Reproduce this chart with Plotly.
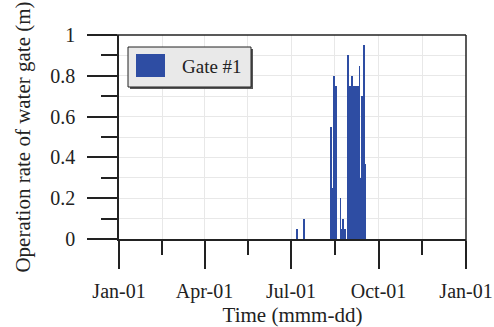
import plotly.graph_objects as go

# Daily operation rate of water gate #1 (m)
dates = [
    "2019-07-07", "2019-07-15",
    "2019-08-12", "2019-08-13", "2019-08-14", "2019-08-15", "2019-08-16", "2019-08-17",
    "2019-08-22", "2019-08-23", "2019-08-24", "2019-08-25", "2019-08-26", "2019-08-27",
    "2019-08-30", "2019-08-31", "2019-09-01", "2019-09-02", "2019-09-03", "2019-09-04",
    "2019-09-05", "2019-09-06", "2019-09-07", "2019-09-08", "2019-09-09",
    "2019-09-11", "2019-09-13", "2019-09-14", "2019-09-15", "2019-09-16", "2019-09-17",
]
values = [
    0.05, 0.10,
    0.55, 0.25, 0.25, 0.80, 0.75, 0.75,
    0.20, 0.05, 0.05, 0.10, 0.05, 0.05,
    0.90, 0.75, 0.75, 0.75, 0.80, 0.75,
    0.75, 0.75, 0.75, 0.75, 0.75,
    0.85, 0.30, 0.70, 0.70, 0.95, 0.37,
]

x_tick_vals = ["2019-01-01", "2019-04-01", "2019-07-01", "2019-10-01", "2020-01-01"]
x_tick_text = ["Jan-01", "Apr-01", "Jul-01", "Oct-01", "Jan-01"]
x_minor_vals = ["2019-02-15 12:00", "2019-05-16 12:00", "2019-08-16", "2019-11-16"]
y_tick_vals = [0, 0.2, 0.4, 0.6, 0.8, 1.0]
y_minor_vals = [0.1, 0.3, 0.5, 0.7, 0.9]

series_name = "Gate #1"
bar_color = "#2E4DA3"
font_family = "Liberation Serif"
ink = "#222222"

fig = go.Figure()
fig.add_trace(go.Bar(x=dates, y=values, name=series_name,
                     marker=dict(color=bar_color, line=dict(width=0)),
                     showlegend=False))

fig.update_layout(
    width=494, height=327,
    margin=dict(l=119, r=28, t=35, b=88),
    paper_bgcolor="white", plot_bgcolor="white",
    bargap=0,
    font=dict(family=font_family, size=20, color=ink),
    showlegend=False,
)

fig.update_xaxes(
    type="date", range=["2019-01-01", "2020-01-01"],
    tickmode="array", tickvals=x_tick_vals, ticktext=x_tick_text,
    ticks="outside", ticklen=28, tickwidth=1.5, tickcolor=ink,
    showline=True, linecolor=ink, linewidth=1.5,
    showgrid=True, gridcolor="#e8e8e8", gridwidth=1,
    minor=dict(tickvals=x_minor_vals, ticks="outside", ticklen=14, tickwidth=1.5,
               tickcolor=ink, showgrid=True, gridcolor="#e8e8e8", gridwidth=1),
    ticklabelstandoff=5,
    title=dict(text="Time (mmm-dd)", font=dict(size=21), standoff=0),
    automargin=False, zeroline=False,
)

fig.update_yaxes(
    range=[0, 1],
    tickmode="array", tickvals=y_tick_vals,
    ticks="outside", ticklen=30, tickwidth=1.5, tickcolor=ink,
    showline=True, linecolor=ink, linewidth=1.5,
    showgrid=True, gridcolor="#e8e8e8", gridwidth=1,
    minor=dict(tickvals=y_minor_vals, ticks="outside", ticklen=16, tickwidth=1.5,
               tickcolor=ink, showgrid=True, gridcolor="#e8e8e8", gridwidth=1),
    ticklabelstandoff=8,
    title=dict(text="Operation rate of water gate (m)", font=dict(size=21), standoff=14),
    automargin=False, zeroline=False,
)

# frame: top line extending to the left tick ends, right line extending to bottom tick ends
fig.add_shape(type="line", xref="paper", yref="paper", x0=-30/347, x1=1, y0=1, y1=1,
              line=dict(color=ink, width=1.5))
fig.add_shape(type="line", xref="paper", yref="paper", x0=1, x1=1, y0=1, y1=-29/204,
              line=dict(color=ink, width=1.5))

# legend box (drawn)
lx0, lx1 = 9/347, 132/347
ly0, ly1 = (239-87)/204, (239-47)/204
fig.add_shape(type="rect", xref="paper", yref="paper",
              x0=lx0 + 2/347, x1=lx1 + 2/347, y0=ly0 - 2/204, y1=ly1 - 2/204,
              fillcolor="#555555", line=dict(width=0))
fig.add_shape(type="rect", xref="paper", yref="paper", x0=lx0, x1=lx1, y0=ly0, y1=ly1,
              fillcolor="#e9e9e9", line=dict(color=ink, width=1))
fig.add_shape(type="rect", xref="paper", yref="paper",
              x0=17/347, x1=46/347, y0=(239-77)/204, y1=(239-54)/204,
              fillcolor=bar_color, line=dict(width=0))
fig.add_annotation(xref="paper", yref="paper", x=61/347, y=(239-66)/204,
                   text=series_name, showarrow=False, xanchor="left", yanchor="middle",
                   font=dict(family=font_family, size=19, color=ink))

fig.write_html("out.html")
